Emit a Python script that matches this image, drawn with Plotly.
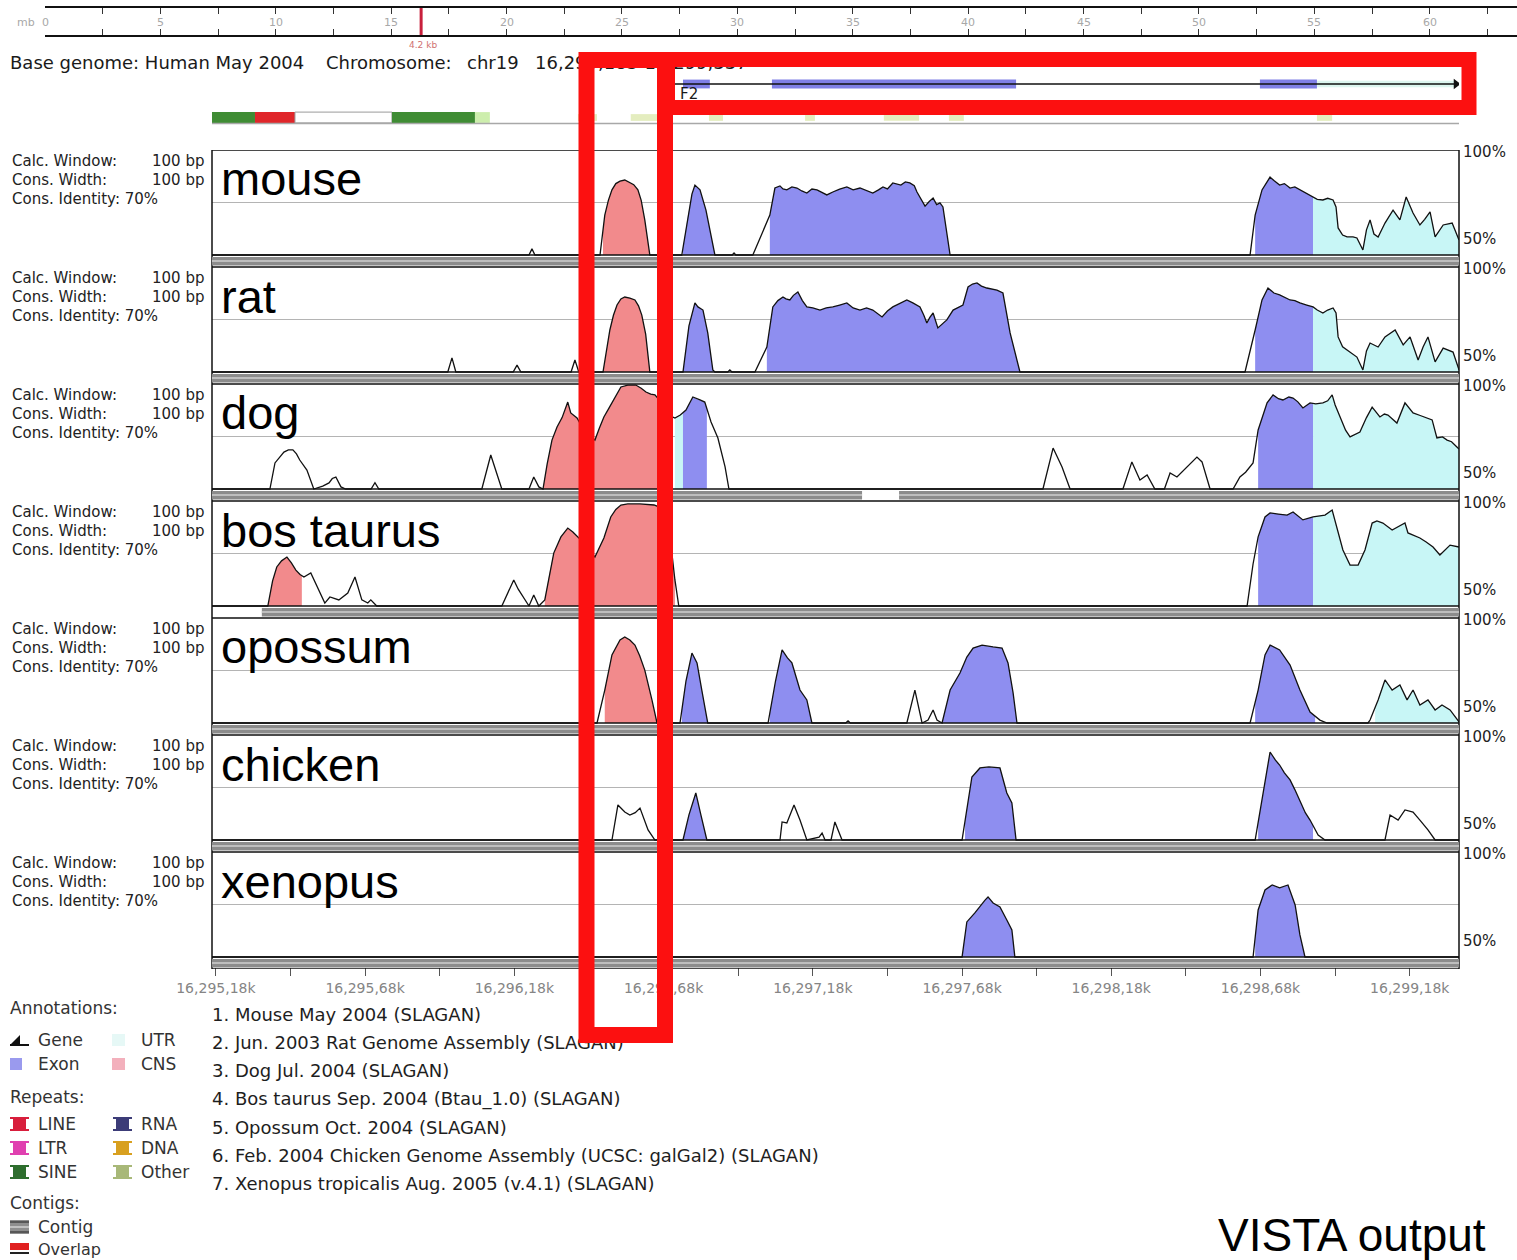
import numpy as np
import plotly.graph_objects as go

W, H = 1517, 1260
START = 16295000          # bp origin; positions below are offsets from it
X_LO, X_HI = 167, 4345    # visible window (bp offsets)

SPECIES = ["mouse", "rat", "dog", "bos taurus", "opossum", "chicken", "xenopus"]
ASSEMBLIES = [
    "1. Mouse May 2004 (SLAGAN)",
    "2. Jun. 2003 Rat Genome Assembly (SLAGAN)",
    "3. Dog Jul. 2004 (SLAGAN)",
    "4. Bos taurus Sep. 2004 (Btau_1.0) (SLAGAN)",
    "5. Opossum Oct. 2004 (SLAGAN)",
    "6. Feb. 2004 Chicken Genome Assembly (UCSC: galGal2) (SLAGAN)",
    "7. Xenopus tropicalis Aug. 2005 (v.4.1) (SLAGAN)",
]

# conservation profiles: (position bp offset, % identity)
MOUSE = [(167,50),(1229,50),(1239,52.9),(1249,50),(1467,50),(1483,69),(1495,76),(1507,81),(1520,84),(1534,85.2),(1550,85.7),(1567,84.3),(1580,83.5),(1594,81),(1605,76),(1617,66.7),(1634,50),
         (1741,50),(1762,69),(1775,79),(1785,83.3),(1802,81),(1822,71.4),(1835,61.9),(1852,50),(1910,50),(1916,51),(1922,50),
         (1979,50),(2036,69),(2053,81.9),(2070,82.9),(2080,81.5),(2093,81),(2110,82.4),(2127,81.9),(2143,80.5),(2160,79.5),(2177,81.4),(2194,81),(2210,79.8),(2227,78.6),(2247,80),(2270,81.4),(2294,82.4),(2315,81),(2338,81.9),(2360,80.5),(2381,79.5),(2400,81),(2415,82.4),(2430,81.5),(2448,84.3),(2475,83.3),(2490,84.8),(2505,84.3),(2520,83),(2529,80),(2545,76),(2556,73.3),(2570,75.5),(2583,77.1),(2595,74),(2606,74.8),(2616,72.9),(2640,50),
         (3645,50),(3662,69),(3685,81),(3712,87.1),(3725,85.5),(3744,83.3),(3760,84),(3779,81.9),(3795,82.4),(3812,81),(3835,79),(3856,77.6),(3870,76.5),(3889,76.2),(3905,77),(3923,76.2),(3933,72.9),(3940,62.9),(3955,59.5),(3970,58.6),(3990,58.6),(4003,58.1),(4023,52.4),(4035,62),(4047,66.7),(4060,60),(4074,58.6),(4097,65.2),(4110,68),(4124,71.4),(4147,66.7),(4168,77.6),(4191,70),(4214,64.3),(4230,67),(4248,70.5),(4265,58.6),(4292,64.3),(4322,65.2),(4345,57.1)]
RAT = [(167,50),(957,50),(971,56.7),(984,50),(1176,50),(1189,53.3),(1202,50),(1370,50),(1383,55.7),(1396,50),
       (1477,50),(1500,70),(1512,77),(1524,81.9),(1537,84.8),(1550,85.7),(1567,85.2),(1584,84.3),(1596,81.5),(1607,77.1),(1620,68),(1634,50),
       (1745,50),(1765,72),(1785,82.9),(1795,81),(1812,79.5),(1828,68.6),(1845,51),(1852,50),(1895,50),(1902,51),(1909,50),
       (1986,50),(2026,61.9),(2046,81),(2063,84),(2080,85.7),(2090,84.8),(2103,84.3),(2115,86.5),(2130,88.1),(2145,84),(2160,81),(2180,80.5),(2204,79.5),(2225,80.5),(2247,81),(2270,81.9),(2294,82.9),(2315,80.5),(2338,79.5),(2360,80.5),(2381,79.5),(2412,76.2),(2430,79),(2448,81),(2470,82.4),(2495,84.3),(2515,82.9),(2539,81),(2552,77),(2562,73.3),(2572,76),(2583,78.1),(2599,71),(2615,73),(2629,74.8),(2650,79.5),(2683,81.9),(2700,90.5),(2715,91.9),(2730,92.4),(2745,90.9),(2763,90),(2780,89.5),(2797,89),(2817,87.6),(2841,68.6),(2874,50),
       (3628,50),(3662,70),(3685,84.3),(3705,90),(3725,87.6),(3744,86.7),(3760,85.7),(3779,84.3),(3795,84),(3812,82.9),(3835,81.9),(3856,81),(3870,79.5),(3889,78.1),(3905,79.5),(3923,80.5),(3933,78.1),(3940,66.7),(3955,62),(3970,60.5),(3990,58.6),(4003,57.1),(4023,51),(4035,60),(4047,63.8),(4060,63),(4074,61.9),(4097,66.7),(4131,70),(4158,62.9),(4170,65),(4181,66.7),(4208,55.7),(4225,62),(4241,66.7),(4265,54.8),(4292,61.4),(4310,60.5),(4325,59.5),(4345,51)]
DOG = [(167,50),(361,50),(378,62.4),(393,65),(408,67.6),(423,68.6),(438,68.6),(450,66.7),(461,63.8),(485,59),(508,50),
       (538,51.4),(559,52.9),(570,55),(582,55.7),(599,51),(615,50),(700,50),(713,53),(726,50),
       (1071,50),(1101,66.2),(1138,50),
       (1229,50),(1245,55.7),(1262,51),(1276,50),(1290,62),(1306,73.3),(1323,79.5),(1340,84),(1359,91.4),(1369,86.2),(1390,83.8),(1405,80),(1420,77),(1435,75),(1450,73.3),(1465,79),(1480,84.3),(1497,88.5),(1513,92.4),(1525,95.5),(1537,98.6),(1560,99.5),(1587,99.5),(1605,98),(1621,96.2),(1637,95.2),(1651,94.8),(1668,92),(1684,88),(1700,85),(1718,83.8),(1736,85.2),(1755,87.6),(1778,93.8),(1790,92.9),(1802,92.4),(1818,91.4),(1839,81.9),(1862,74.3),(1886,60.5),(1899,50),
       (2951,50),(2985,69.5),(3015,60.5),(3042,50),
       (3219,50),(3249,62.9),(3276,54.3),(3300,56.7),(3326,50),(3358,50),(3377,57.6),(3400,55.7),(3417,58.1),(3444,62.4),(3467,65.2),(3484,62.9),(3511,50),
       (3588,50),(3611,55.7),(3630,58),(3655,62.4),(3672,78.1),(3702,91),(3722,94.8),(3740,93),(3755,92.4),(3775,93.8),(3789,93.3),(3805,91.5),(3822,88.6),(3846,91),(3865,90.5),(3889,91),(3905,92),(3920,94.8),(3930,90),(3946,84.3),(3965,78),(3980,74.8),(3995,76),(4013,77.1),(4035,84),(4054,89),(4080,84.3),(4095,85.7),(4107,85.2),(4137,81.4),(4164,91),(4191,86.2),(4215,85),(4235,84),(4255,82.9),(4271,74.3),(4290,74.8),(4305,73.3),(4320,72.5),(4338,70),(4345,69)]
BOS = [(167,50),(354,50),(370,62),(384,68.6),(400,71.5),(418,73.3),(433,70.5),(448,67.1),(462,65),(475,63.8),(498,65.7),(510,62),(522,59),(545,51.4),(562,54.3),(592,52.9),(622,56.2),(646,63.8),(669,52.9),(689,51.4),(699,52.9),(719,50),
       (1138,50),(1178,62.4),(1193,58),(1209,54.3),(1229,50),(1245,55.2),(1262,50),(1282,52.9),(1297,65),(1312,75.2),(1336,82.9),(1359,87.1),(1376,85.2),(1400,82),(1420,79),(1450,73.3),(1465,78),(1480,82.4),(1503,92.4),(1520,96),(1537,98.1),(1560,98.6),(1600,98.6),(1648,98.1),(1668,97),(1690,88),(1708,75),(1718,62.4),(1731,50),
       (3635,50),(3655,70),(3672,82.9),(3695,92.4),(3712,94.3),(3740,93.8),(3769,93.3),(3789,94.8),(3805,93),(3822,91),(3856,92.4),(3896,93.3),(3920,95.7),(3936,87.6),(3956,76.7),(3980,69.5),(4007,69.5),(4030,76.7),(4054,89.5),(4070,90.5),(4090,89.5),(4121,86.2),(4140,87.5),(4164,89.5),(4174,84.8),(4214,82.4),(4235,80.5),(4258,78.1),(4281,74.3),(4300,77),(4315,79),(4345,78.1)]
OPOSSUM = [(167,50),(1457,50),(1483,65.7),(1507,82.4),(1534,89.5),(1550,91),(1567,89.5),(1584,87.1),(1600,82),(1617,75.2),(1641,61),(1658,50),
           (1735,50),(1755,70),(1775,83.3),(1792,78.6),(1808,65.7),(1828,50),
           (2030,50),(2055,70),(2077,84.8),(2095,81),(2110,78.6),(2137,65.7),(2160,61),(2177,50),(2290,50),(2298,51),(2306,50),
           (2495,50),(2522,65.7),(2546,50),(2566,51.4),(2583,56.2),(2596,51.4),(2613,50),(2640,65.7),(2673,73.8),(2696,81.4),(2717,85.7),(2747,87.1),(2765,86.5),(2784,86.2),(2814,85.7),(2834,78.6),(2851,64.3),(2864,50),
           (3645,50),(3672,65.7),(3695,82.4),(3712,87.1),(3744,84.8),(3779,77.6),(3812,65.7),(3846,55.2),(3879,51.4),(3903,50),(4040,50),
           (4047,51.4),(4074,61),(4097,70.5),(4121,65.7),(4147,68.1),(4171,61),(4191,65.7),(4214,58.6),(4241,61),(4265,56.2),(4288,58.6),(4315,56.2),(4345,50.5)]
CHICKEN = [(167,50),(1507,50),(1527,66.7),(1550,63.3),(1567,61.9),(1585,63),(1601,65.2),(1628,54.8),(1651,50),
           (1745,50),(1765,62),(1788,72.4),(1805,62),(1825,50),
           (2070,50),(2077,58.6),(2093,58.1),(2117,66.7),(2137,59.5),(2160,50),(2201,51.4),(2211,53.3),(2221,50),(2241,50),(2254,58.6),(2278,50),
           (2680,50),(2713,80),(2740,84.3),(2770,84.8),(2807,84.3),(2830,72.4),(2847,67.6),(2861,50),
           (3662,50),(3685,69),(3712,91.9),(3730,88),(3744,85.7),(3760,82),(3779,78.6),(3795,74),(3812,69),(3830,63),(3846,59.5),(3873,52.4),(3896,50),
           (4097,50),(4114,61.9),(4141,59.5),(4164,64.3),(4191,63.3),(4214,59.5),(4241,54.8),(4265,50),(4345,50)]
XENOPUS = [(167,50),(2680,50),(2696,66.7),(2723,71),(2757,77.1),(2767,78.6),(2784,75.7),(2807,73.8),(2830,67.6),(2847,62.9),(2857,50),
           (3655,50),(3672,72.4),(3695,81.9),(3719,84.3),(3744,82.9),(3772,84.3),(3796,74.8),(3812,60.5),(3829,50),(4345,50)]
CURVES = [MOUSE, RAT, DOG, BOS, OPOSSUM, CHICKEN, XENOPUS]

# conserved regions (start, end, type)
MOUSE_REG = [(1477,1634,"CNS"),(1745,1852,"Exon"),(2036,2640,"Exon"),(3662,3856,"Exon"),(3856,4345,"UTR")]
RAT_REG = [(1477,1634,"CNS"),(1745,1845,"Exon"),(2026,2874,"Exon"),(3662,3856,"Exon"),(3856,4345,"UTR")]
DOG_REG = [(1276,1708,"CNS"),(1718,1745,"UTR"),(1745,1825,"Exon"),(3672,3856,"Exon"),(3856,4345,"UTR")]
BOS_REG = [(354,468,"CNS"),(1282,1718,"CNS"),(3672,3856,"Exon"),(3856,4345,"UTR")]
OPOSSUM_REG = [(1483,1658,"CNS"),(1741,1828,"Exon"),(2036,2177,"Exon"),(2613,2864,"Exon"),(3662,3863,"Exon"),(4064,4345,"UTR")]
CHICKEN_REG = [(1748,1825,"Exon"),(2690,2861,"Exon"),(3672,3856,"Exon")]
XENOPUS_REG = [(2680,2857,"Exon"),(3662,3829,"Exon")]
REGIONS = [MOUSE_REG, RAT_REG, DOG_REG, BOS_REG, OPOSSUM_REG, CHICKEN_REG, XENOPUS_REG]

CONTIGS = [[(167,4345)], [(167,4345)], [(167,2345),(2469,4345)], [(334,4345)],
           [(167,4345)], [(167,4345)], [(167,4345)]]

GENE_SPAN = (1675, 4335)
EXONS = [(1745,1835),(2043,2861),(3678,3869)]
UTRS = [(3869,4335)]
REPEATS = [(167,311,"SINE"),(311,445,"LINE"),(445,770,"Simple"),(770,1048,"SINE"),(1048,1098,"Other"),
           (1393,1457,"Low"),(1570,1668,"Low"),(1832,1879,"Low"),(2154,2187,"Low"),(2418,2536,"Low"),
           (2636,2686,"Low"),(3869,3920,"Low")]

RULER_LABELS = list(range(0, 65, 5))
RULER_TICKS = [k * 2.5 for k in range(26)]
CHROM_LEN = 63.78
VIEW_MB = 16.297

FILL = {"CNS": "#f28a8c", "Exon": "#8e8ef0", "UTR": "#c8f6f6"}
REP_COL = {"SINE": "#3f8c34", "LINE": "#e0262a", "Simple": "#ffffff", "Other": "#cdeead", "Low": "#e4edbf"}

YMIN = 100 - 117 * 50 / 105
FONT = "DejaVu Sans"


def P(x, y):
    return x / W, 1 - y / H


fig = go.Figure()
layout = {}
shapes = []
anns = []


def A(x, y, text, size=15, color="#222", xanchor="left", family=FONT, yanchor="middle"):
    px_, py_ = P(x, y)
    anns.append(dict(x=px_, y=py_, xref="paper", yref="paper", text=text, showarrow=False,
                     xanchor=xanchor, yanchor=yanchor, font=dict(family=family, size=size, color=color)))


# ---------- track axes ----------
for i in range(7):
    T = 150 + 117 * i
    key = "yaxis" if i == 0 else f"yaxis{i+1}"
    layout[key] = dict(domain=[1 - (T + 117) / H, 1 - T / H], range=[YMIN, 100], anchor="x",
                       tickvals=[75], showticklabels=False, ticks="", showgrid=True, automargin=False,
                       gridcolor="#b4b4b4", gridwidth=1, zeroline=False, fixedrange=True)

for i, (curve, regs) in enumerate(zip(CURVES, REGIONS)):
    yref = "y" if i == 0 else f"y{i+1}"
    pos = np.array([p for p, _ in curve], dtype=float)
    ide = np.array([v for _, v in curve], dtype=float)
    for s, e, kind in regs:
        inner = (pos > s) & (pos < e)
        xs = [s, s] + list(pos[inner]) + [e, e]
        ys = [50, np.interp(s, pos, ide)] + list(ide[inner]) + [np.interp(e, pos, ide), 50]
        fig.add_trace(go.Scatter(x=START + np.array(xs), y=ys, xaxis="x", yaxis=yref, mode="lines",
                                 fill="toself", fillcolor=FILL[kind], line=dict(width=0),
                                 hoverinfo="skip", showlegend=False))
    fig.add_trace(go.Scatter(x=START + pos, y=ide, xaxis="x", yaxis=yref, mode="lines",
                             line=dict(color="#111111", width=1.3), hoverinfo="skip", showlegend=False))
    # frame, baseline, contig band
    shapes.append(dict(type="rect", xref="x domain", yref=yref, x0=0, x1=1, y0=YMIN, y1=100,
                       line=dict(color="#111", width=1.5), layer="above"))
    shapes.append(dict(type="line", xref="x domain", yref=yref, x0=0, x1=1, y0=50, y1=50,
                       line=dict(color="#111", width=1.5), layer="above"))
    for s, e in CONTIGS[i]:
        shapes.append(dict(type="rect", xref="x", yref=yref, x0=START + s, x1=START + e,
                           y0=45.0, y1=49.1, fillcolor="#8c8c8c", line=dict(width=0), layer="above"))
        shapes.append(dict(type="line", xref="x", yref=yref, x0=START + s, x1=START + e,
                           y0=47.2, y1=47.2, line=dict(color="#cfcfcf", width=1.5), layer="above"))
    T = 150 + 117 * i
    A(10, T + 11, "Calc. Window:")
    A(206, T + 11, "100 bp", xanchor="right")
    A(10, T + 30, "Cons. Width:")
    A(206, T + 30, "100 bp", xanchor="right")
    A(10, T + 49, "Cons. Identity: 70%")
    A(219, T + 29, SPECIES[i], size=47, color="#000", family="Liberation Sans")
    A(1461, T + 2, "100%", size=15, color="#222")
    A(1461, T + 89, "50%", size=15, color="#222")

# ---------- main x axis ----------
tickvals = [START + 180 + 250 * k for k in range(17)]
ticktext = []
for k, v in enumerate(tickvals):
    if k % 2 == 0:
        ticktext.append(f"{v // 1000:,},{(v % 1000) // 10:02d}k")
    else:
        ticktext.append("")
layout["xaxis"] = dict(domain=[212 / W, 1459 / W], range=[START + X_LO, START + X_HI], anchor="free",
                       position=1 - 967 / H, tickvals=tickvals, ticktext=ticktext, ticks="outside",
                       ticklen=8, tickcolor="#555", tickwidth=1, showgrid=False, zeroline=False,
                       showline=False, tickfont=dict(family=FONT, size=14, color="#858585"),
                       automargin=False, fixedrange=True)

# ---------- gene track ----------
layout["yaxis8"] = dict(domain=[1 - 92 / H, 1 - 76 / H], range=[-0.5, 0.5], visible=False, anchor="x",
                        automargin=False)
fig.add_trace(go.Scatter(x=[START + GENE_SPAN[0], START + GENE_SPAN[1]], y=[0, 0], xaxis="x", yaxis="y8",
                         mode="lines", line=dict(color="#111", width=1.5), hoverinfo="skip", showlegend=False))
fig.add_trace(go.Bar(base=[START + s for s, e in UTRS], x=[e - s for s, e in UTRS], y=[0] * len(UTRS),
                     orientation="h", width=0.4, marker=dict(color="#dcf6ef", line=dict(width=0)),
                     xaxis="x", yaxis="y8", hoverinfo="skip", showlegend=False))
fig.add_trace(go.Bar(base=[START + s for s, e in EXONS], x=[e - s for s, e in EXONS], y=[0] * len(EXONS),
                     orientation="h", width=0.55, marker=dict(color="#7f7fe6", line=dict(width=0)),
                     xaxis="x", yaxis="y8", hoverinfo="skip", showlegend=False))
fig.add_trace(go.Scatter(x=[START + GENE_SPAN[1]], y=[0], xaxis="x", yaxis="y8", mode="markers",
                         marker=dict(symbol="triangle-right", size=9, color="#111"),
                         hoverinfo="skip", showlegend=False))

# ---------- repeat track ----------
layout["yaxis9"] = dict(domain=[1 - 125 / H, 1 - 110 / H], range=[-0.5, 0.5], visible=False, anchor="x",
                        automargin=False)
shapes.append(dict(type="line", xref="x domain", yref="y9", x0=0, x1=1, y0=-0.4, y1=-0.4,
                   line=dict(color="#a8a8a8", width=1.5)))
fig.add_trace(go.Bar(base=[START + s for s, e, t in REPEATS], x=[e - s for s, e, t in REPEATS],
                     y=[0] * len(REPEATS), orientation="h",
                     width=[0.45 if t == "Low" else 0.72 for s, e, t in REPEATS],
                     marker=dict(color=[REP_COL[t] for s, e, t in REPEATS],
                                 line=dict(color=["#9a9a9a" if t == "Simple" else "rgba(0,0,0,0)" for s, e, t in REPEATS],
                                           width=[1 if t == "Simple" else 0 for s, e, t in REPEATS])),
                     xaxis="x", yaxis="y9", hoverinfo="skip", showlegend=False))

# ---------- chromosome ruler ----------
layout["xaxis2"] = dict(domain=[45 / W, 1], range=[0, CHROM_LEN], anchor="y10", showline=True,
                        linecolor="#111", linewidth=1.5, mirror="ticks", ticks="inside", ticklen=6,
                        tickcolor="#333", tickvals=RULER_TICKS, showticklabels=False, showgrid=False,
                        zeroline=False, fixedrange=True, automargin=False)
layout["yaxis10"] = dict(domain=[1 - 35 / H, 1 - 8 / H], range=[0, 1], visible=False, anchor="x2",
                         automargin=False)
fig.add_trace(go.Scatter(x=[VIEW_MB, VIEW_MB], y=[0, 1], xaxis="x2", yaxis="y10", mode="lines",
                         line=dict(color="#c8203c", width=3), hoverinfo="skip", showlegend=False))
for v in RULER_LABELS:
    anns.append(dict(x=v, y=1 - 22 / H, xref="x2", yref="paper", text=str(v), showarrow=False,
                     yanchor="middle", font=dict(family=FONT, size=11, color="#a8a8a8")))
A(26, 22, "mb", size=11, color="#a8a8a8", xanchor="center")
A(423, 45, "4.2 kb", size=9, color="#d07070", xanchor="center")

# ---------- pixel overlay axes (for text that the red boxes cover) ----------
layout["xaxis3"] = dict(domain=[0, 1], range=[0, W], visible=False, anchor="y11", fixedrange=True,
                        automargin=False)
layout["yaxis11"] = dict(domain=[0, 1], range=[H, 0], visible=False, anchor="x3", fixedrange=True,
                         automargin=False)
hdr_x = [10, 326, 467, 535]
hdr_t = ["Base genome: Human May 2004", "Chromosome:", "chr19", "16,295,183-16,299,337"]
fig.add_trace(go.Scatter(x=hdr_x, y=[64] * 4, text=hdr_t, mode="text", textposition="middle right",
                         textfont=dict(family=FONT, size=18, color="#1a1a1a"), xaxis="x3", yaxis="y11",
                         hoverinfo="skip", showlegend=False))
fig.add_trace(go.Scatter(x=[680], y=[95], text=["F2"], mode="text", textposition="middle right",
                         textfont=dict(family=FONT, size=15, color="#1a1a1a"), xaxis="x3", yaxis="y11",
                         hoverinfo="skip", showlegend=False))
fig.add_trace(go.Scatter(x=[212] * 7, y=[1016 + 28.3 * k for k in range(7)], text=ASSEMBLIES, mode="text",
                         textposition="middle right", textfont=dict(family=FONT, size=18, color="#1e1e1e"),
                         xaxis="x3", yaxis="y11", hoverinfo="skip", showlegend=False))

# ---------- legend ----------
A(8, 1008, "Annotations:", size=17, color="#333")
A(36, 1040, "Gene", size=17, color="#333")
A(139, 1040, "UTR", size=17, color="#333")
A(36, 1064, "Exon", size=17, color="#333")
A(139, 1064, "CNS", size=17, color="#333")
A(8, 1097, "Repeats:", size=17, color="#333")
for (lab, col, x0, y0) in [("LINE", "#d81e3c", 10, 1124), ("LTR", "#e040b0", 10, 1148), ("SINE", "#2e6e2e", 10, 1172),
                           ("RNA", "#3c3c78", 113, 1124), ("DNA", "#d8a020", 113, 1148), ("Other", "#a8b878", 113, 1172)]:
    A(x0 + 26, y0, lab, size=17, color="#333")
    shapes.append(dict(type="rect", xref="x3", yref="y11", x0=x0 + 3, x1=x0 + 16, y0=y0 - 5, y1=y0 + 5,
                       fillcolor=col, line=dict(width=0), layer="above"))
    shapes.append(dict(type="line", xref="x3", yref="y11", x0=x0, x1=x0 + 19, y0=y0 - 6, y1=y0 - 6,
                       line=dict(color=col, width=2), layer="above"))
    shapes.append(dict(type="line", xref="x3", yref="y11", x0=x0, x1=x0 + 19, y0=y0 + 6, y1=y0 + 6,
                       line=dict(color=col, width=2), layer="above"))
A(8, 1203, "Contigs:", size=17, color="#333")
A(36, 1227, "Contig", size=17, color="#333")
A(36, 1249, "Overlap", size=16, color="#333")
shapes += [
    dict(type="path", xref="x3", yref="y11", path="M 10 1045 L 20 1035 L 20 1045 Z", fillcolor="#111",
         line=dict(width=0), layer="above"),
    dict(type="line", xref="x3", yref="y11", x0=10, x1=29, y0=1045, y1=1045, line=dict(color="#111", width=2), layer="above"),
    dict(type="rect", xref="x3", yref="y11", x0=10, x1=22, y0=1058, y1=1070, fillcolor="#9a9aee", line=dict(width=0), layer="above"),
    dict(type="rect", xref="x3", yref="y11", x0=112, x1=125, y0=1034, y1=1046, fillcolor="#e6f8f6", line=dict(width=0), layer="above"),
    dict(type="rect", xref="x3", yref="y11", x0=112, x1=125, y0=1058, y1=1070, fillcolor="#f3b0bc", line=dict(width=0), layer="above"),
    dict(type="rect", xref="x3", yref="y11", x0=10, x1=29, y0=1220, y1=1234, fillcolor="#8e8e8e", line=dict(width=0), layer="above"),
    dict(type="line", xref="x3", yref="y11", x0=10, x1=29, y0=1222, y1=1222, line=dict(color="#444", width=1.5), layer="above"),
    dict(type="line", xref="x3", yref="y11", x0=10, x1=29, y0=1227, y1=1227, line=dict(color="#d0d0d0", width=1.5), layer="above"),
    dict(type="line", xref="x3", yref="y11", x0=10, x1=29, y0=1232, y1=1232, line=dict(color="#444", width=1.5), layer="above"),
    dict(type="rect", xref="x3", yref="y11", x0=10, x1=29, y0=1243, y1=1250, fillcolor="#e02020", line=dict(width=0), layer="above"),
    dict(type="line", xref="x3", yref="y11", x0=10, x1=29, y0=1253, y1=1253, line=dict(color="#222", width=2), layer="above"),
]

# caption
A(1216, 1207, "VISTA output", size=46, color="#000", family="Liberation Sans", yanchor="top")

# ---------- red highlight boxes ----------
shapes += [
    dict(type="rect", xref="x3", yref="y11", x0=586.5, x1=665, y0=60, y1=1035,
         line=dict(color="#fc1010", width=16), layer="above"),
    dict(type="rect", xref="x3", yref="y11", x0=667.5, x1=1469, y0=59.5, y1=107.5,
         line=dict(color="#fc1010", width=15), layer="above"),
]

layout.update(dict(width=W, height=H, margin=dict(l=0, r=0, t=0, b=0, pad=0, autoexpand=False),
                   paper_bgcolor="white", plot_bgcolor="rgba(0,0,0,0)", showlegend=False,
                   barmode="overlay", hovermode=False, shapes=shapes, annotations=anns))
fig.update_layout(**layout)
fig.write_html("out.html", config={"displayModeBar": False},
               post_script="document.body.style.margin='0';")
